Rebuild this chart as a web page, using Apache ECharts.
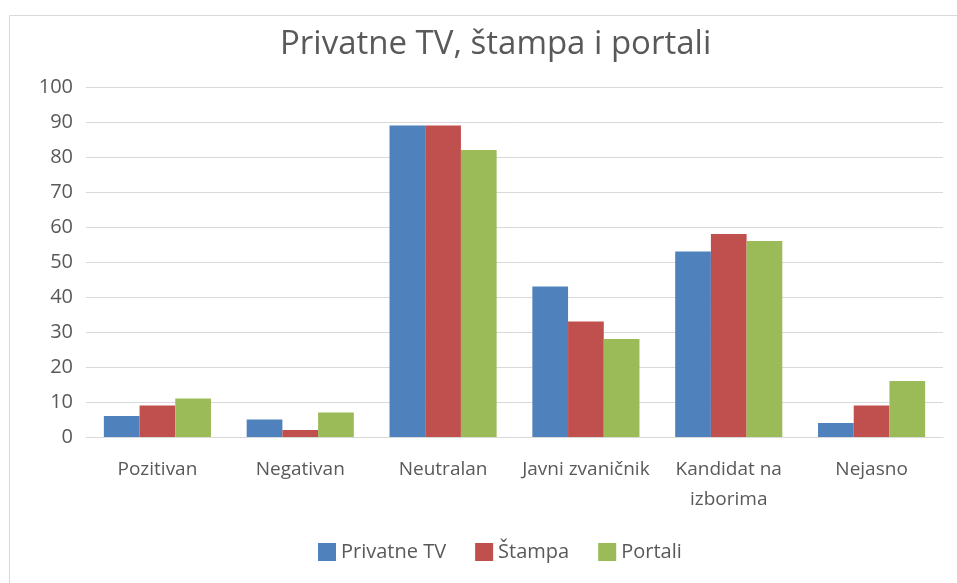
<!DOCTYPE html>
<html>
<head>
<meta charset="utf-8">
<script src="https://cdn.jsdelivr.net/npm/echarts@6/dist/echarts.min.js"></script>
<style>
  html, body { margin: 0; padding: 0; background: #fff; }
  #chart { width: 957px; height: 583px; }
</style>
</head>
<body>
<div id="chart"></div>
<script>
const categories = ['Pozitivan', 'Negativan', 'Neutralan', 'Javni zvaničnik', 'Kandidat na\nizborima', 'Nejasno'];
const privatneTV = [6, 5, 89, 43, 53, 4];
const stampa = [9, 2, 89, 33, 58, 9];
const portali = [11, 7, 82, 28, 56, 16];
const yTicks = { min: 0, max: 100, interval: 10 };

const textColor = '#595959';
const font = 'Open Sans';

const chart = echarts.init(document.getElementById('chart'));
chart.setOption({
  animation: false,
  graphic: [{
    type: 'rect',
    shape: { x: 9.5, y: 15.5, width: 1000, height: 1000 },
    style: { fill: 'none', stroke: '#d9d9d9', lineWidth: 1 },
    silent: true
  }],
  title: {
    text: 'Privatne TV, štampa i portali',
    left: 275,
    top: 23,
    textStyle: { color: textColor, fontFamily: font, fontSize: 33, fontWeight: 'normal' }
  },
  legend: {
    top: 537,
    left: 313,
    itemWidth: 18,
    itemHeight: 18,
    itemGap: 29,
    icon: 'rect',
    textStyle: { color: textColor, fontFamily: font, fontSize: 20 },
    data: ['Privatne TV', 'Štampa', 'Portali']
  },
  grid: { left: 86, right: 14, top: 87, bottom: 146, containLabel: false },
  xAxis: {
    type: 'category',
    data: categories,
    axisLine: { lineStyle: { color: '#d9d9d9', width: 1 } },
    axisTick: { show: false },
    axisLabel: { color: textColor, fontFamily: font, fontSize: 19, margin: 18, lineHeight: 30, interval: 0 }
  },
  yAxis: {
    type: 'value',
    min: yTicks.min,
    max: yTicks.max,
    interval: yTicks.interval,
    axisLine: { show: false },
    axisTick: { show: false },
    splitLine: { lineStyle: { color: '#d9d9d9', width: 1 } },
    axisLabel: { color: textColor, fontFamily: font, fontSize: 20, margin: 13 }
  },
  series: [
    { name: 'Privatne TV', type: 'bar', data: privatneTV, itemStyle: { color: '#4F81BD' }, barGap: '0%', barCategoryGap: '25%' },
    { name: 'Štampa', type: 'bar', data: stampa, itemStyle: { color: '#C0504D' }, barGap: '0%', barCategoryGap: '25%' },
    { name: 'Portali', type: 'bar', data: portali, itemStyle: { color: '#9BBB59' }, barGap: '0%', barCategoryGap: '25%' }
  ]
});
</script>
</body>
</html>
